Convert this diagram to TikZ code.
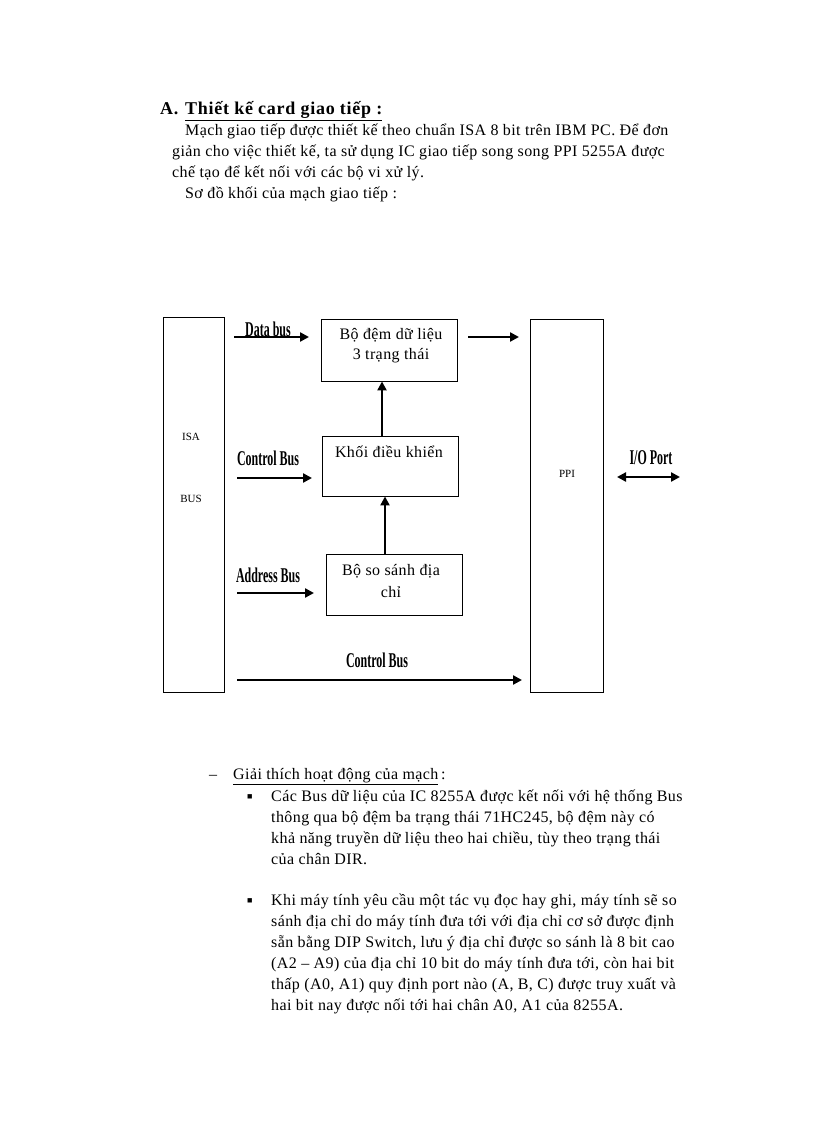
\documentclass[tikz,border=0pt]{standalone}
\usepackage{fontspec}
\usepackage{graphicx}
\setmainfont{Liberation Serif}[LetterSpace=2.5]
\newfontfamily\labfont{Liberation Serif}
\newfontfamily\titfont{Liberation Serif}[LetterSpace=4]
\usetikzlibrary{arrows.meta,calc}
\newcommand{\lbl}[1]{\scalebox{0.57}[1]{\labfont\fontsize{21}{21}\selectfont\bfseries #1}}
\tikzset{
  txt/.style={anchor=base west, inner sep=0pt, font=\fontsize{16}{19}\selectfont},
  boxtxt/.style={inner sep=0pt, font=\fontsize{16}{19}\selectfont},
  small/.style={inner sep=0pt, font=\labfont\fontsize{11}{13}\selectfont},
  blk/.style={draw, line width=0.9pt, inner sep=0pt},
  arr/.style={line width=2.6pt, -{Triangle[length=9pt,width=9pt]}},
  darr/.style={line width=2.6pt, {Triangle[length=9pt,width=9pt]}-{Triangle[length=9pt,width=9pt]}},
  buslbl/.style={inner sep=0pt}
}
\begin{document}
\begin{tikzpicture}[x=1pt,y=-1pt]
\useasboundingbox[fill=white] (0,0) rectangle (816,1123);

% Heading and intro
\node[txt, font=\titfont\fontsize{18}{20}\selectfont\bfseries] (ha) at (160,115) {A.};
\node[txt, font=\titfont\fontsize{18}{20}\selectfont\bfseries] (ht) at (185,115) {\underline{Thiết kế card giao tiếp :}};
\node[txt] (p1) at (185,136) {Mạch giao tiếp được thiết kế theo chuẩn ISA 8 bit trên IBM PC. Để đơn};
\node[txt] (p2) at (172,157) {giản cho việc thiết kế, ta sử dụng IC giao tiếp song song PPI 5255A được};
\node[txt] (p3) at (172,178) {chế tạo để kết nối với các bộ vi xử lý.};
\node[txt] (p4) at (185,199) {Sơ đồ khối của mạch giao tiếp :};

% Blocks
\node[blk, minimum width=61, minimum height=375] (isa) at (193.5,504.5) {};
\node[blk, minimum width=136, minimum height=62] (buf) at (389,350) {};
\node[blk, minimum width=73, minimum height=373] (ppi) at (566.5,505.5) {};
\node[blk, minimum width=136, minimum height=60] (ctl) at (390,466) {};
\node[blk, minimum width=136, minimum height=61] (cmp) at (394,584.5) {};

\node[small] (isat) at (191,437) {ISA};
\node[small] (bust) at (191,499) {BUS};
\node[small] (ppit) at (567,474) {PPI};

\node[boxtxt] (buf1) at (391,335) {Bộ đệm dữ liệu};
\node[boxtxt] (buf2) at (391,356) {3 trạng thái};
\node[boxtxt] (ctl1) at (389,452) {Khối điều khiển};
\node[boxtxt] (cmp1) at (391,571) {Bộ so sánh địa};
\node[boxtxt] (cmp2) at (391,592) {chỉ};

% Bus labels
\node[buslbl] (ldata) at (268,329) {\lbl{Data bus}};
\node[buslbl] (lctl) at (268,458) {\lbl{Control Bus}};
\node[buslbl] (laddr) at (268,575) {\lbl{Address Bus}};
\node[buslbl] (lctl2) at (377,660) {\lbl{Control Bus}};
\node[buslbl] (lio) at (651,458) {\lbl{I/O Port}};

% Arrow end points
\coordinate (d0) at (234,337);
\coordinate (d1) at (309,337);
\coordinate (o0) at (468,337);
\coordinate (o1) at (519,337);
\coordinate (c0) at (237,478);
\coordinate (c1) at (312,478);
\coordinate (a0) at (237,593);
\coordinate (a1) at (314,593);
\coordinate (b0) at (237,680);
\coordinate (b1) at (522,680);
\coordinate (io0) at (617,477);
\coordinate (io1) at (680,477);

\draw[arr] (d0) -- (d1);
\draw[arr] (o0) -- (o1);
\draw[arr] (c0) -- (c1);
\draw[arr] (a0) -- (a1);
\draw[arr] (b0) -- (b1);
\draw[darr] (io0) -- (io1);
\draw[arr] ($(ctl.north)+(-8,0)$) -- ($(buf.south)+(-7,0)$);
\draw[arr] ($(cmp.north)+(-9,0)$) -- ($(ctl.south)+(-5,0)$);

% Explanation
\node[txt] (dash) at (209,779) {–};
\node[txt] (gt) at (233,779) {\underline{Giải thích hoạt động của mạch}\,:};
\node[txt, font=\labfont\fontsize{9}{9}\selectfont] (bl1) at (247,799) {■};
\node[txt] (q1) at (271,801) {Các Bus dữ liệu của IC 8255A được kết nối với hệ thống Bus};
\node[txt] (q2) at (271,822) {thông qua bộ đệm ba trạng thái 71HC245, bộ đệm này có};
\node[txt] (q3) at (271,843) {khả năng truyền dữ liệu theo hai chiều, tùy theo trạng thái};
\node[txt] (q4) at (271,864) {của chân DIR.};
\node[txt, font=\labfont\fontsize{9}{9}\selectfont] (bl2) at (247,903) {■};
\node[txt] (r1) at (271,905) {Khi máy tính yêu cầu một tác vụ đọc hay ghi, máy tính sẽ so};
\node[txt] (r2) at (271,926) {sánh địa chỉ do máy tính đưa tới với địa chỉ cơ sở được định};
\node[txt] (r3) at (271,947) {sẵn bằng DIP Switch, lưu ý địa chỉ được so sánh là 8 bit cao};
\node[txt] (r4) at (271,968) {(A2 – A9) của địa chỉ 10 bit do máy tính đưa tới, còn hai bit};
\node[txt] (r5) at (271,989) {thấp (A0, A1) quy định port nào (A, B, C) được truy xuất và};
\node[txt] (r6) at (271,1010) {hai bit nay được nối tới hai chân A0, A1 của 8255A.};
\end{tikzpicture}
\end{document}
